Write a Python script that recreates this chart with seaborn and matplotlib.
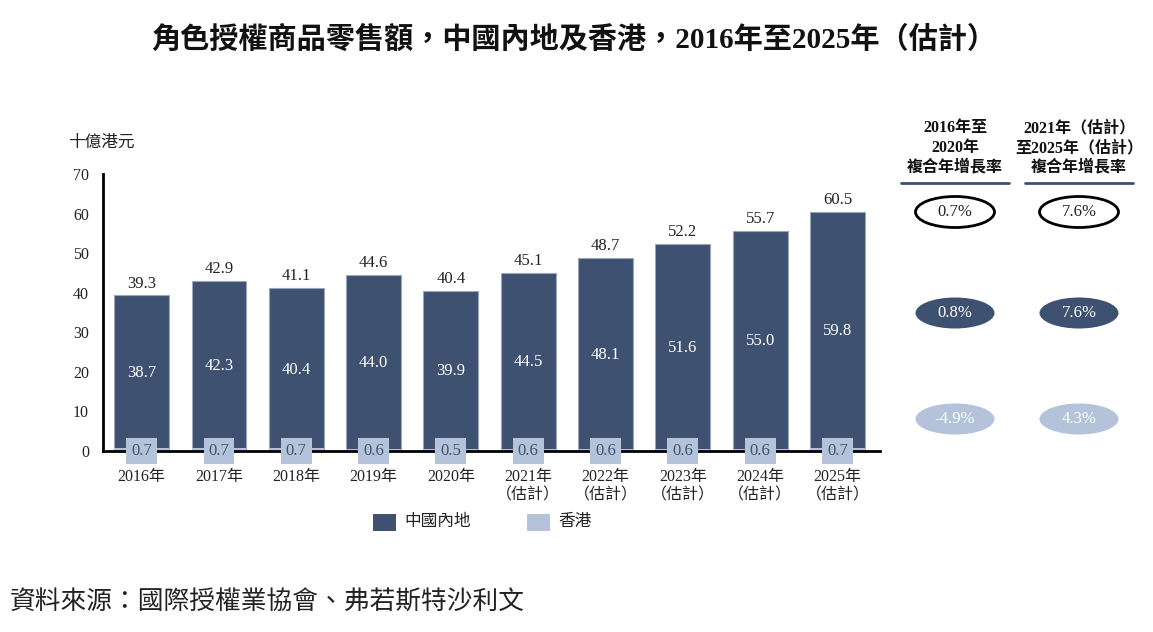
import numpy as np
import pandas as pd
import matplotlib
matplotlib.use("Agg")
import matplotlib.pyplot as plt
import seaborn as sns
from matplotlib.patches import Ellipse, Rectangle

# chart data
years = ["2016年", "2017年", "2018年", "2019年", "2020年",
         "2021年\n（估計）", "2022年\n（估計）", "2023年\n（估計）",
         "2024年\n（估計）", "2025年\n（估計）"]
mainland = [38.7, 42.3, 40.4, 44.0, 39.9, 44.5, 48.1, 51.6, 55.0, 59.8]
hongkong = [0.7, 0.7, 0.7, 0.6, 0.5, 0.6, 0.6, 0.6, 0.6, 0.7]
totals = [39.3, 42.9, 41.1, 44.6, 40.4, 45.1, 48.7, 52.2, 55.7, 60.5]
cagr_headers = ["2016年至\n2020年\n複合年增長率", "2021年（估計）\n至2025年（估計）\n複合年增長率"]
cagr_total = ["0.7%", "7.6%"]
cagr_mainland = ["0.8%", "7.6%"]
cagr_hk = ["-4.9%", "4.3%"]

dark = "#3F5170"
light = "#B4C3D9"
text_col = "#222222"

sns.set_theme(style="white")
plt.rcParams["font.family"] = ["Liberation Serif", "Noto Sans CJK TC", "DejaVu Sans"]

df = pd.DataFrame({"year": years, "mainland": mainland, "hk": hongkong, "total": totals})

fig = plt.figure(figsize=(11.53, 6.32), dpi=100)
W, H = 1153, 632
ax = fig.add_axes([103 / W, (H - 451) / H, (880 - 103) / W, (451 - 174) / H])

sns.barplot(data=df, x="year", y="total", color=dark, width=0.71,
            edgecolor="#9AA6BA", linewidth=0.8, saturation=1, ax=ax)
sns.barplot(data=df, x="year", y="hk", color=light, width=0.71,
            linewidth=0, saturation=1, ax=ax)

ax.set_ylim(0, 70)
ax.set_xlim(-0.5, len(years) - 0.5 + 0.05)
ax.set_yticks(range(0, 71, 10))
ax.set_xlabel("")
ax.set_ylabel("")
for s in ["top", "right"]:
    ax.spines[s].set_visible(False)
ax.spines["left"].set_linewidth(2)
ax.spines["bottom"].set_linewidth(2)
ax.spines["left"].set_color("black")
ax.spines["bottom"].set_color("black")
ax.tick_params(axis="y", direction="out", length=6, width=1.5, color="black",
               labelsize=11.5, labelcolor=text_col, pad=4)
ax.tick_params(axis="x", length=0, labelsize=11.5, labelcolor=text_col, pad=13)

for i in range(len(years)):
    ax.text(i, totals[i] + 1.0, f"{totals[i]:.1f}", ha="center", va="bottom",
            fontsize=12, color=text_col)
    ax.text(i, totals[i] / 2, f"{mainland[i]:.1f}", ha="center", va="center",
            fontsize=12, color="white")
    ax.text(i, 0, f"{hongkong[i]:.1f}", ha="center", va="center", fontsize=12,
            color="#3F5170", zorder=5,
            bbox=dict(boxstyle="square,pad=0.3", fc=light, ec="none"))

fig.text(68 / W, 1 - 143 / H, "十億港元", fontsize=12, color=text_col,
         ha="left", va="center")

# overlay for annotations in pixel space
ov = fig.add_axes([0, 0, 1, 1], zorder=-1)
ov.set_xlim(0, W)
ov.set_ylim(H, 0)
ov.axis("off")

ov.text(574, 40, "角色授權商品零售額，中國內地及香港，2016年至2025年（估計）",
        ha="center", va="center", fontsize=21, fontweight="bold", color="#111111")
ov.text(10, 603, "資料來源：國際授權業協會、弗若斯特沙利文", ha="left", va="center",
        fontsize=18.5, color="#222222")

# legend
ov.add_patch(Rectangle((373, 514), 23, 17, fc=dark, ec="none"))
ov.text(404, 522, "中國內地", ha="left", va="center", fontsize=12, color=text_col)
ov.add_patch(Rectangle((527, 514), 23, 17, fc=light, ec="none"))
ov.text(558, 522, "香港", ha="left", va="center", fontsize=12, color=text_col)

# CAGR panel
col_x = [955, 1079]
for j, cx in enumerate(col_x):
    ov.text(cx, 148, cagr_headers[j], ha="center", va="center", fontsize=11.5,
            fontweight="bold", color="#111111", linespacing=1.3)
    ov.plot([cx - 54, cx + 54], [183, 183], color="#3F5170", lw=2)
    ov.add_patch(Ellipse((cx, 212), 79, 31, fc="white", ec="black", lw=2))
    ov.text(cx, 212, cagr_total[j], ha="center", va="center", fontsize=12, color=text_col)
    ov.add_patch(Ellipse((cx, 313), 79, 31, fc=dark, ec="none"))
    ov.text(cx, 313, cagr_mainland[j], ha="center", va="center", fontsize=12, color="white")
    ov.add_patch(Ellipse((cx, 419), 79, 31, fc=light, ec="none"))
    ov.text(cx, 419, cagr_hk[j], ha="center", va="center", fontsize=12, color="white")

fig.savefig("out.png", dpi=100)
